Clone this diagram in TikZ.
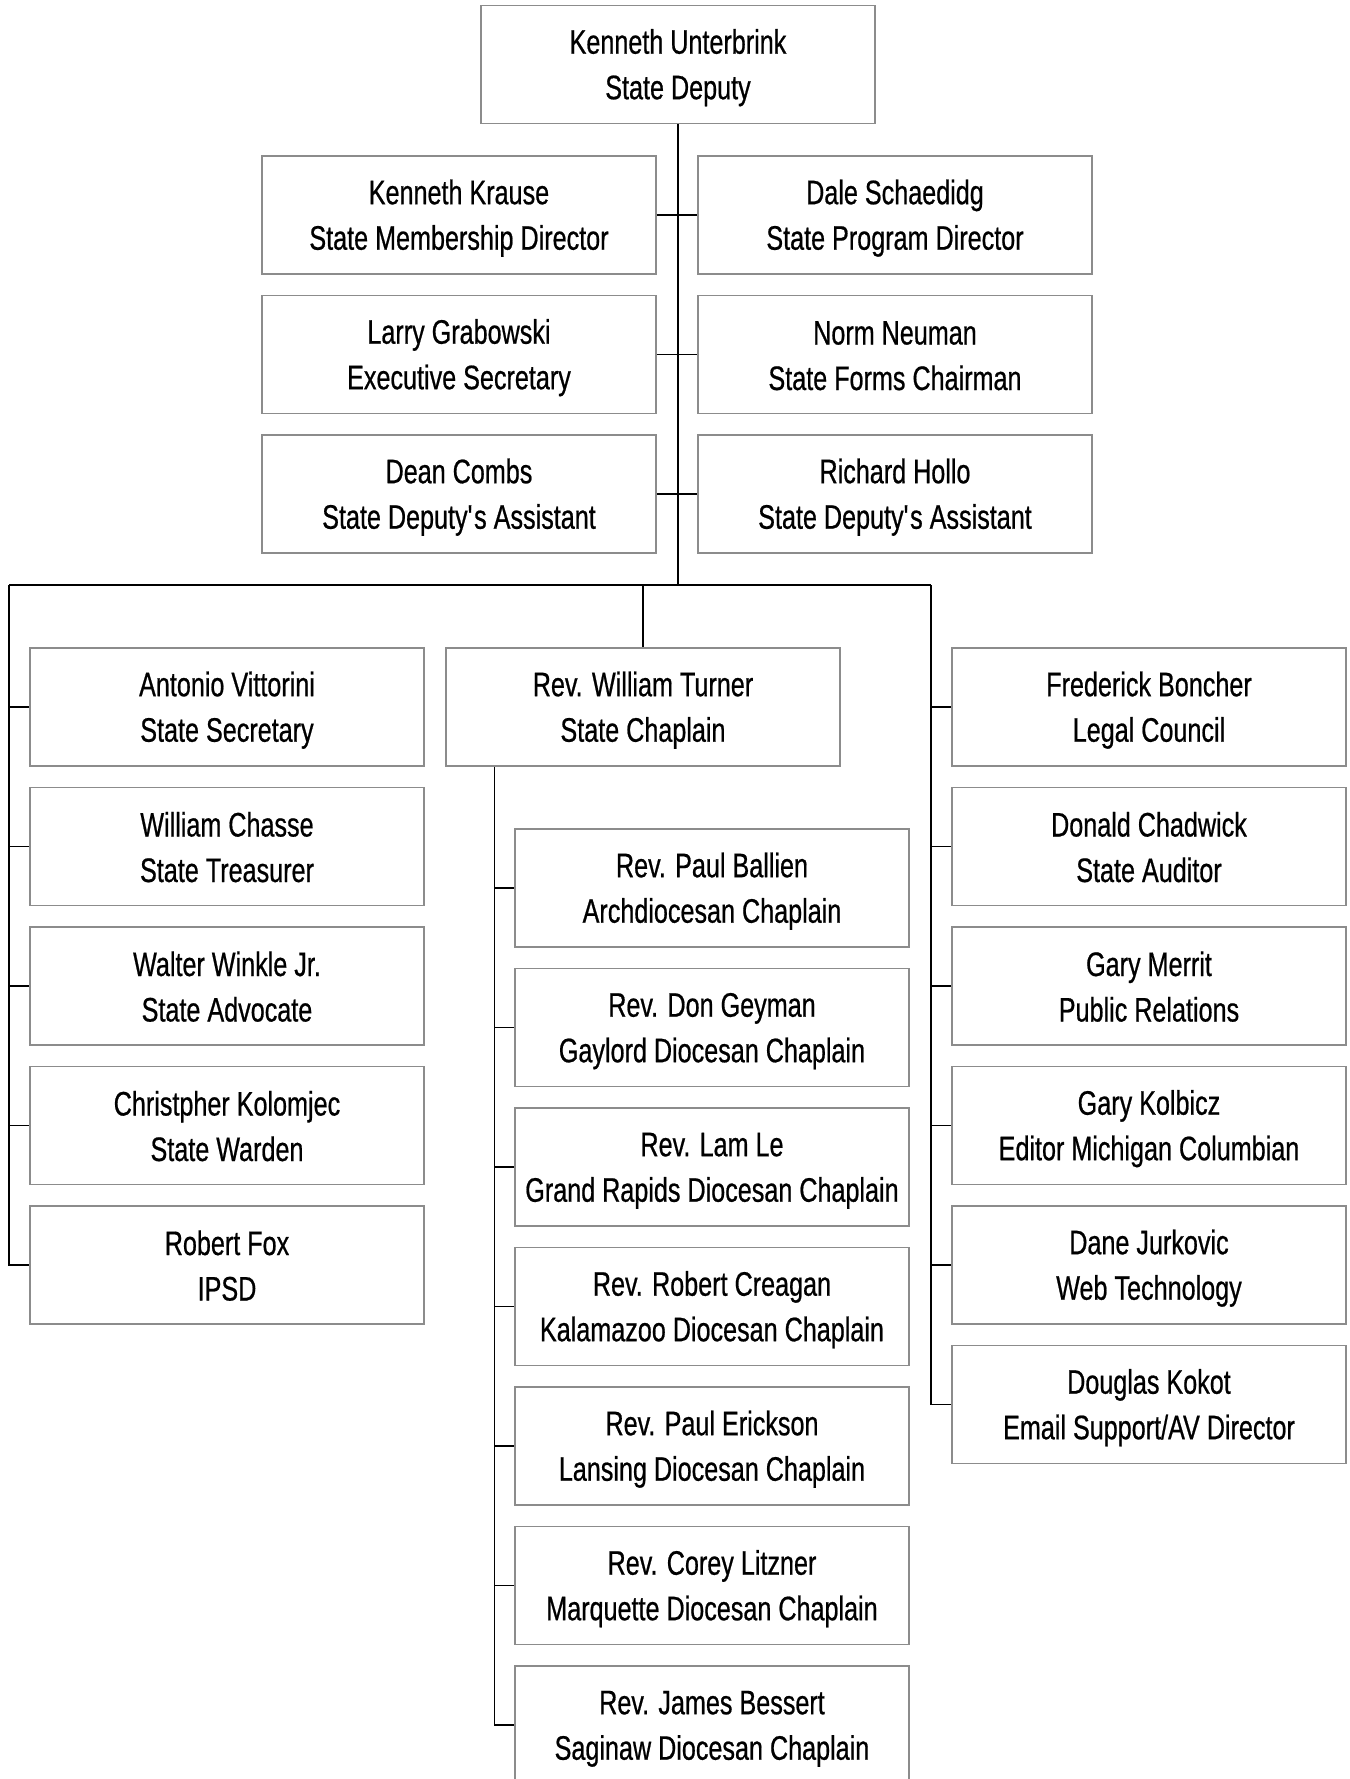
\documentclass[tikz,border=0pt]{standalone}
\usepackage{fontspec}
\setmainfont{Liberation Sans}[FakeStretch=0.74, FakeBold=0.6]
\definecolor{boxgray}{RGB}{140,140,140}
\newcommand\twolines[2]{\rule{0pt}{31pt}#1\\#2\rule[-5.5pt]{0pt}{5.5pt}}
\tikzset{
  person/.style={draw=boxgray, line width=1.5pt, fill=white,
    minimum width=394pt, minimum height=118pt, inner sep=0pt,
    align=center, font=\fontsize{34}{45.5}\selectfont},
  link/.style={draw=black, line width=1.5pt}
}
\begin{document}
\begin{tikzpicture}[x=1pt, y=-1pt]
\useasboundingbox (0,0) rectangle (1349,1779);

% head of the organisation
\node[person] (deputy) at (678,64.5) {\twolines{Kenneth Unterbrink}{State Deputy}};

% staff pairs beside the trunk
\node[person] (krause)  at (459,215)   {\twolines{Kenneth Krause}{State Membership Director}};
\node[person] (schaed)  at (895,215)   {\twolines{Dale Schaedidg}{State Program Director}};
\node[person] (grabow)  at (459,354.5) {\twolines{Larry Grabowski}{Executive Secretary}};
\node[person] (neuman)  at (895,354.5) {\twolines{Norm Neuman}{State Forms Chairman}};
\node[person] (combs)   at (459,494)   {\twolines{Dean Combs}{State Deputy\textquotesingle s Assistant}};
\node[person] (hollo)   at (895,494)   {\twolines{Richard Hollo}{State Deputy\textquotesingle s Assistant}};

% left column of officers
\node[person] (vitto)   at (227,707)    {\twolines{Antonio Vittorini}{State Secretary}};
\node[person] (chasse)  at (227,846.5)  {\twolines{William Chasse}{State Treasurer}};
\node[person] (winkle)  at (227,986)    {\twolines{Walter Winkle Jr.}{State Advocate}};
\node[person] (kolom)   at (227,1125.5) {\twolines{Christpher Kolomjec}{State Warden}};
\node[person] (fox)     at (227,1265)   {\twolines{Robert Fox}{IPSD}};

% chaplain and diocesan chaplains
\node[person] (chap)    at (643,707)    {\twolines{Rev. William Turner}{State Chaplain}};
\node[person] (ballien) at (712,888)    {\twolines{Rev. Paul Ballien}{Archdiocesan Chaplain}};
\node[person] (geyman)  at (712,1027.5) {\twolines{Rev. Don Geyman}{Gaylord Diocesan Chaplain}};
\node[person] (lamle)   at (712,1167)   {\twolines{Rev. Lam Le}{Grand Rapids Diocesan Chaplain}};
\node[person] (creagan) at (712,1306.5) {\twolines{Rev. Robert Creagan}{Kalamazoo Diocesan Chaplain}};
\node[person] (erick)   at (712,1446)   {\twolines{Rev. Paul Erickson}{Lansing Diocesan Chaplain}};
\node[person] (litzner) at (712,1585.5) {\twolines{Rev. Corey Litzner}{Marquette Diocesan Chaplain}};
\node[person] (bessert) at (712,1725)   {\twolines{Rev. James Bessert}{Saginaw Diocesan Chaplain}};

% right column of officers
\node[person] (bonch)   at (1149,707)    {\twolines{Frederick Boncher}{Legal Council}};
\node[person] (chadw)   at (1149,846.5)  {\twolines{Donald Chadwick}{State Auditor}};
\node[person] (merrit)  at (1149,986)    {\twolines{Gary Merrit}{Public Relations}};
\node[person] (kolb)    at (1149,1125.5) {\twolines{Gary Kolbicz}{Editor Michigan Columbian}};
\node[person] (jurk)    at (1149,1265)   {\twolines{Dane Jurkovic}{Web Technology}};
\node[person] (kokot)   at (1149,1404.5) {\twolines{Douglas Kokot}{Email Support/AV Director}};

% bus coordinates
\coordinate (busW) at (9,585);
\coordinate (busE) at (931,585);
\coordinate (trunkEnd) at (deputy.south |- busE);
\coordinate (chapOut) at ([xshift=49pt]chap.south west);

% trunk and paired staff
\draw[link] (deputy.south) -- (trunkEnd);
\draw[link] (krause.east) -- (schaed.west);
\draw[link] (grabow.east) -- (neuman.west);
\draw[link] (combs.east) -- (hollo.west);

% horizontal bus and drops
\draw[link] (busW) -- (busE);
\draw[link] (chap.north |- busE) -- (chap.north);

% left column
\draw[link] (busW) |- (fox.west);
\foreach \n in {vitto,chasse,winkle,kolom}
  \draw[link] (busW |- \n.west) -- (\n.west);

% right column
\draw[link] (busE) |- (kokot.west);
\foreach \n in {bonch,chadw,merrit,kolb,jurk}
  \draw[link] (busE |- \n.west) -- (\n.west);

% chaplain branch
\draw[link] (chapOut) |- (bessert.west);
\foreach \n in {ballien,geyman,lamle,creagan,erick,litzner}
  \draw[link] (chapOut |- \n.west) -- (\n.west);
\end{tikzpicture}
\end{document}
